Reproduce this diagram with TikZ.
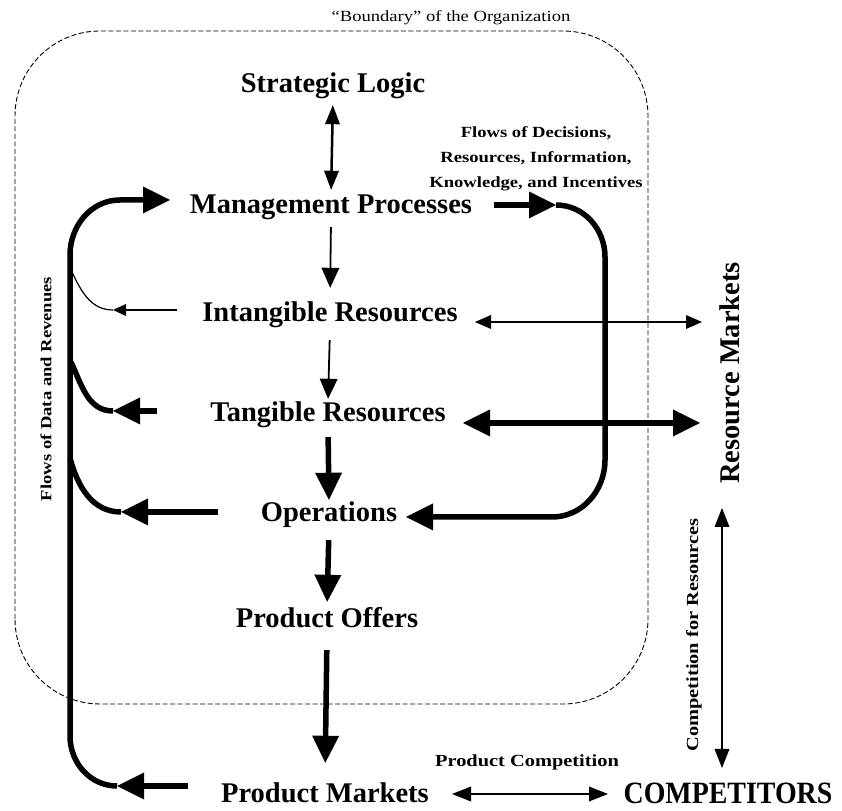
\documentclass[tikz,border=0pt]{standalone}
\usepackage{fontspec}
\setmainfont{Liberation Serif}
\newfontfamily\widefont[FakeStretch=1.2]{Liberation Serif}
\newfontfamily\narrowfont[FakeStretch=0.9]{Liberation Serif}
\usetikzlibrary{arrows.meta}
\tikzset{
  lbl/.style={font=\bfseries\fontsize{28.5}{30}\selectfont, inner sep=0pt, text height=20pt, text depth=6pt},
  sml/.style={font=\widefont\bfseries\fontsize{15.5}{25}\selectfont, inner sep=0pt, align=center},
  boundary/.style={line width=0.9pt, dash pattern=on 5pt off 2.5pt, rounded corners=85pt},
  thkline/.style={line width=5.5pt},
  thnline/.style={line width=1.2pt},
  thkarr/.style={line width=5.5pt, -{Triangle[length=27pt,width=27pt,line width=0pt]}},
  thkdbl/.style={line width=5.5pt, {Triangle[length=27pt,width=27pt,line width=0pt]}-{Triangle[length=27pt,width=27pt,line width=0pt]}},
  thinv/.style={line width=1.8pt, -{Triangle[length=20pt,width=18pt,line width=0pt]}},
  thinh/.style={line width=1.3pt, -{Triangle[length=13pt,width=12pt,line width=0pt]}},
  thindbl/.style={line width=1.5pt, {Triangle[length=16pt,width=14pt,line width=0pt]}-{Triangle[length=16pt,width=14pt,line width=0pt]}},
  middbl/.style={line width=2.5pt, {Triangle[length=19pt,width=15pt,line width=0pt]}-{Triangle[length=19pt,width=15pt,line width=0pt]}}
}
\begin{document}
\begin{tikzpicture}[x=1pt,y=1pt]
\useasboundingbox (0,0) rectangle (842,810);
\fill[white] (0,0) rectangle (842,810);

% organization boundary
\draw[boundary] (15,106) rectangle (648,779);
\node[font=\widefont\fontsize{15.5}{18}\selectfont, inner sep=0pt] (BD) at (451,792) {“Boundary” of the Organization};

% main labels
\node[lbl] (SL) at (333,724) {Strategic Logic};
\node[lbl] (MP) at (331,603) {Management Processes};
\node[lbl] (IR) at (330,495) {Intangible Resources};
\node[lbl] (TR) at (328,395) {Tangible Resources};
\node[lbl] (OP) at (329,295) {Operations};
\node[lbl] (PO) at (327,189) {Product Offers};
\node[lbl] (PM) at (325,15) {Product Markets};
\node[font=\narrowfont\bfseries\fontsize{31}{33}\selectfont, inner sep=0pt] (CO) at (728,17) {COMPETITORS};
\node[lbl, rotate=90] (RM) at (732,437) {Resource Markets};

% small labels
\node[sml] (FD) at (536,651) {Flows of Decisions,\\Resources, Information,\\Knowledge, and Incentives};
\node[sml, rotate=90] (FDR) at (46,421) {Flows of Data and Revenues};
\node[sml, font=\widefont\bfseries\fontsize{17}{20}\selectfont, rotate=90] (CR) at (694,175) {Competition for Resources};
\node[sml, font=\widefont\bfseries\fontsize{17}{20}\selectfont] (PC) at (527,48) {Product Competition};

% central chain
\draw[middbl, shorten <=6pt, shorten >=4pt] (SL.south) -- (MP.north);
\draw[thinv, shorten <=7pt, shorten >=14pt] (MP.south) -- (IR.north);
\draw[thinv, shorten <=12pt, shorten >=3pt] (IR.south) -- (TR.north);
\draw[thkarr, shorten <=9pt, shorten >=2pt] (TR.south) -- (OP.north);
\draw[thkarr, shorten <=12pt, shorten >=6pt] (OP.south) -- (PO.north);
\draw[thkarr, shorten <=16pt, shorten >=19pt] (PO.south) -- (PM.north);

% left feedback loop (flows of data and revenues)
\coordinate (mpL) at (170,610);
\coordinate (pmT) at (117,24);
\coordinate (pmA) at (188,24);
\coordinate (jI) at (72,538);
\coordinate (irT) at (113,500);
\coordinate (irA) at (177,500);
\coordinate (jT) at (71,448);
\coordinate (trT) at (113,399);
\coordinate (trA) at (157,399);
\coordinate (jO) at (70,352);
\coordinate (opT) at (121,298);
\coordinate (opA) at (218,298);

\draw[thkarr] (pmT) to[out=180,in=-90] (70,74) -- (70,555) to[out=90,in=180] (120,610) -- (mpL);
\draw[thkarr] (pmA) -- (pmT);
\draw[thnline] (jI) to[out=-65,in=180] (irT);
\draw[thinh] (irA) -- (irT);
\draw[thkline] (jT) to[out=-65,in=180] (trT);
\draw[thkarr] (trA) -- (trT);
\draw[thkline] (jO) to[out=-75,in=180] (opT);
\draw[thkarr] (opA) -- (opT);

% right loop (flows of decisions...)
\coordinate (mpR) at (494,605);
\coordinate (mpT) at (556,605);
\coordinate (opR) at (406,293);
\draw[thkarr] (mpR) -- (mpT);
\draw[thkarr] (mpT) to[out=0,in=90] (605,553) -- (605,350) to[out=-90,in=0] (552,293) -- (opR);

% market links
\coordinate (irR) at (475,488);
\coordinate (rmI) at (702,488);
\coordinate (trR) at (463,387);
\coordinate (rmT) at (700,387);
\coordinate (pmR) at (452,16);
\coordinate (coL) at (608,16);
\coordinate (rmB) at (722,302);
\coordinate (coT) at (722,42);
\draw[thindbl] (irR) -- (rmI);
\draw[thkdbl] (trR) -- (rmT);
\draw[middbl] (pmR) -- (coL);
\draw[middbl, line width=2pt] (rmB) -- (coT);
\end{tikzpicture}
\end{document}
